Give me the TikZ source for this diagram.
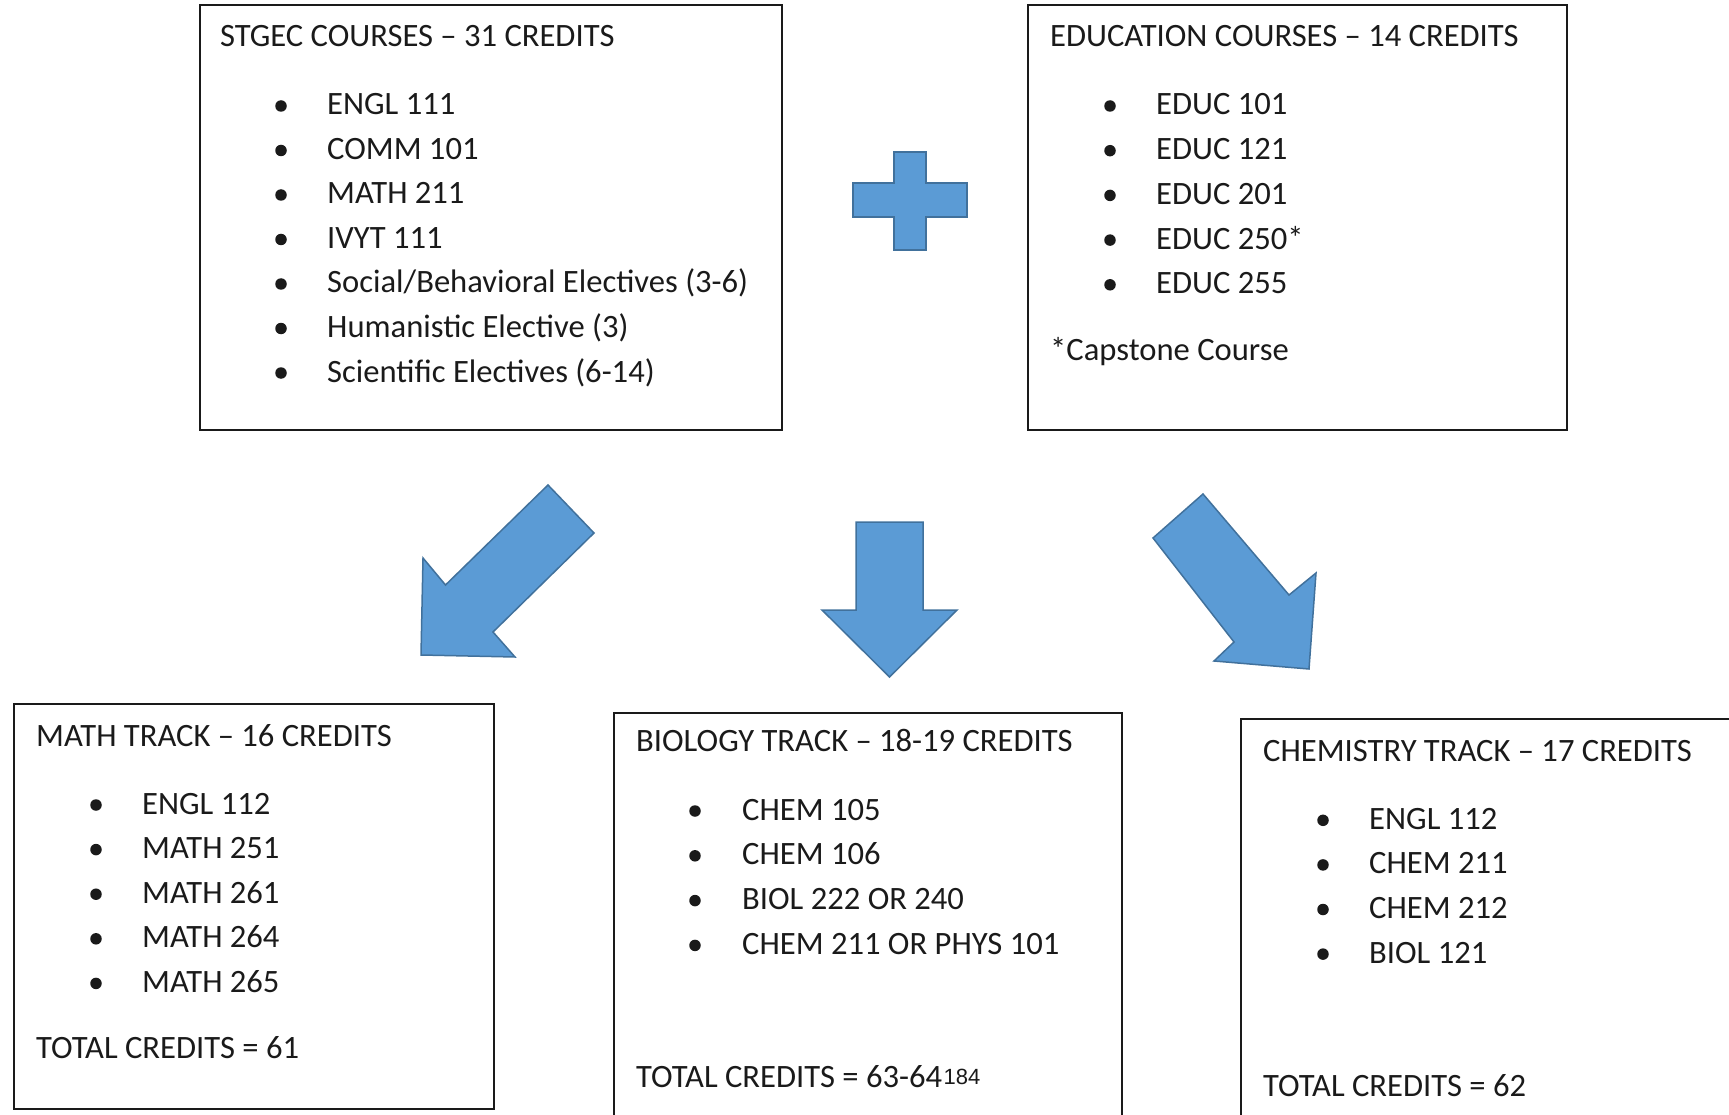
\documentclass[tikz,border=0pt]{standalone}
\usepackage{fontspec}
\setmainfont{Carlito}
\newfontfamily\arialfont{Liberation Sans}
\definecolor{arrowfill}{HTML}{5B9BD5}
\definecolor{arrowline}{HTML}{41719C}
\definecolor{ink}{HTML}{1A1A1A}
\begin{document}
\begin{tikzpicture}[x=1pt,y=-1pt,
  box/.style={draw=ink,line width=1.8pt,inner sep=0pt,outer sep=0pt,anchor=north west},
  txt/.style={anchor=base west,inner sep=0pt,text=ink,font=\fontsize{32.6}{38}\selectfont},
  blt/.style={circle,fill=ink,inner sep=0pt,minimum size=11.5pt},
  blockarrow/.style={fill=arrowfill,draw=arrowline,line width=1.5pt,line join=miter}]
\clip (0,0) rectangle (1729,1115);
\useasboundingbox (0,0) rectangle (1729,1115);

% ---------- boxes ----------
\node[box,minimum width=582pt,minimum height=425pt] (stgec) at (200,5) {};
\node[box,minimum width=539pt,minimum height=425pt] (educ) at (1028,5) {};
\node[box,minimum width=480pt,minimum height=405pt] (math) at (14,704) {};
\node[box,minimum width=508pt,minimum height=440pt] (bio) at (614,713) {};
\node[box,minimum width=520pt,minimum height=440pt] (chem) at (1241,719) {};

% ---------- STGEC ----------
\node[txt] (stgect) at (220,46.7) {STGEC COURSES – 31 CREDITS};
\foreach [count=\i] \t in {ENGL 111, COMM 101, MATH 211, IVYT 111,
  Social/Behavioral Electives (3-6), Humanistic Elective (3), Scientific Electives (6-14)} {
  \node[txt] (s\i) at (327,{115+(\i-1)*44.5}) {\t};
  \node[blt] (sb\i) at (281,{106+(\i-1)*44.5}) {};
}

% ---------- EDUCATION ----------
\node[txt] (educt) at (1050,46.7) {EDUCATION COURSES – 14 CREDITS};
\foreach [count=\i] \t in {EDUC 101, EDUC 121, EDUC 201, EDUC 250*, EDUC 255} {
  \node[txt] (e\i) at (1156,{115+(\i-1)*44.7}) {\t};
  \node[blt] (eb\i) at (1110,{106+(\i-1)*44.7}) {};
}
\node[txt] (cap) at (1050,360) {*Capstone Course};

% ---------- MATH ----------
\node[txt] (matht) at (36,746) {MATH TRACK – 16 CREDITS};
\foreach [count=\i] \t in {ENGL 112, MATH 251, MATH 261, MATH 264, MATH 265} {
  \node[txt] (m\i) at (142,{814+(\i-1)*44.6}) {\t};
  \node[blt] (mb\i) at (96,{805+(\i-1)*44.6}) {};
}
\node[txt] (mathtot) at (36,1058) {TOTAL CREDITS = 61};

% ---------- BIOLOGY ----------
\node[txt] (biot) at (636,751.7) {BIOLOGY TRACK – 18-19 CREDITS};
\foreach [count=\i] \t in {CHEM 105, CHEM 106, BIOL 222 OR 240, CHEM 211 OR PHYS 101} {
  \node[txt] (b\i) at (742,{820+(\i-1)*44.8}) {\t};
  \node[blt] (bb\i) at (695,{811+(\i-1)*44.8}) {};
}
\node[txt] (biotot) at (636,1087.7) {TOTAL CREDITS = 63-64};
\node[anchor=base west,inner sep=0pt,text=ink,font=\arialfont\fontsize{22}{24}\selectfont,
  xshift=1pt,yshift=3.5pt] (pagenum) at (biotot.base east) {184};

% ---------- CHEMISTRY ----------
\node[txt] (chemt) at (1263,761.7) {CHEMISTRY TRACK – 17 CREDITS};
\foreach [count=\i] \t in {ENGL 112, CHEM 211, CHEM 212, BIOL 121} {
  \node[txt] (c\i) at (1369,{829.3+(\i-1)*44.6}) {\t};
  \node[blt] (cb\i) at (1323,{820.3+(\i-1)*44.6}) {};
}
\node[txt] (chemtot) at (1263,1096.7) {TOTAL CREDITS = 62};

% ---------- plus sign ----------
\draw[blockarrow] (894,152) -- (926,152) -- (926,183) -- (967,183) -- (967,217)
  -- (926,217) -- (926,250) -- (894,250) -- (894,217) -- (853,217) -- (853,183)
  -- (894,183) -- cycle;

% ---------- block arrows ----------
\draw[blockarrow] (548,485) -- (594,533) -- (493,632) -- (515,657) -- (421,655)
  -- (423,558) -- (445.5,585) -- cycle;
\draw[blockarrow] (856,522) -- (923,522) -- (923,610) -- (957,610) -- (889.5,677)
  -- (822,610) -- (856,610) -- cycle;
\draw[blockarrow] (1203,494) -- (1289,595) -- (1316,573) -- (1309,669) -- (1214,661)
  -- (1234,642) -- (1153,538) -- cycle;
\end{tikzpicture}
\end{document}
